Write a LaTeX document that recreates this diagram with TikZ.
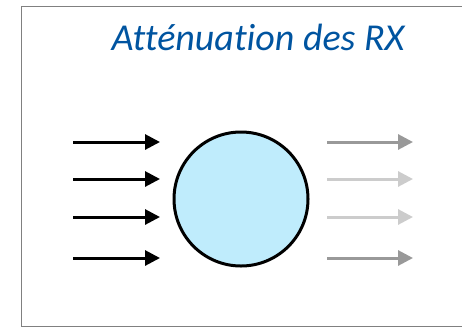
\documentclass[tikz,border=0pt]{standalone}
\usepackage{fontspec}
\setmainfont{Carlito}[Ligatures={NoCommon}]
\usepackage{tikz}
\usetikzlibrary{arrows.meta, positioning}
\definecolor{titleblue}{RGB}{0,84,160}
\definecolor{bodyblue}{RGB}{191,236,252}

\begin{document}
\begin{tikzpicture}[
  x=1pt, y=-1pt,
  frame/.style={draw=black!50, line width=0.9pt},
  body/.style={circle, draw=black, line width=3pt, fill=bodyblue,
    minimum size=134pt, inner sep=0pt},
  ttl/.style={font=\fontsize{38}{40}\selectfont\itshape, text=titleblue},
  ray/.style={line width=3pt, -{Triangle[length=15pt, width=15pt]}}
]
\useasboundingbox (0,0) rectangle (462,327);

% ---- frame and title
\draw[frame] (21,6) -- (21,326) -- (470,326) (21,6) -- (470,6);
\node[ttl, anchor=base] (title) at (258,50) {Atténuation des RX};

% ---- the absorbing body
\node[body] (obj) at (241,199) {};

% ---- incoming and outgoing rays
\foreach \i/\y/\c in {1/142/black!40, 2/179/black!20, 3/217/black!20, 4/258/black!40} {
  \coordinate (in\i)   at (73,\y);
  \coordinate (hit\i)  at (160,\y);
  \coordinate (out\i)  at (327,\y);
  \coordinate (end\i)  at (413,\y);
  \draw[ray, draw=black, fill=black] (in\i) -- (hit\i);
  \draw[ray, draw=\c, fill=\c] (out\i) -- (end\i);
}

\end{tikzpicture}
\end{document}
